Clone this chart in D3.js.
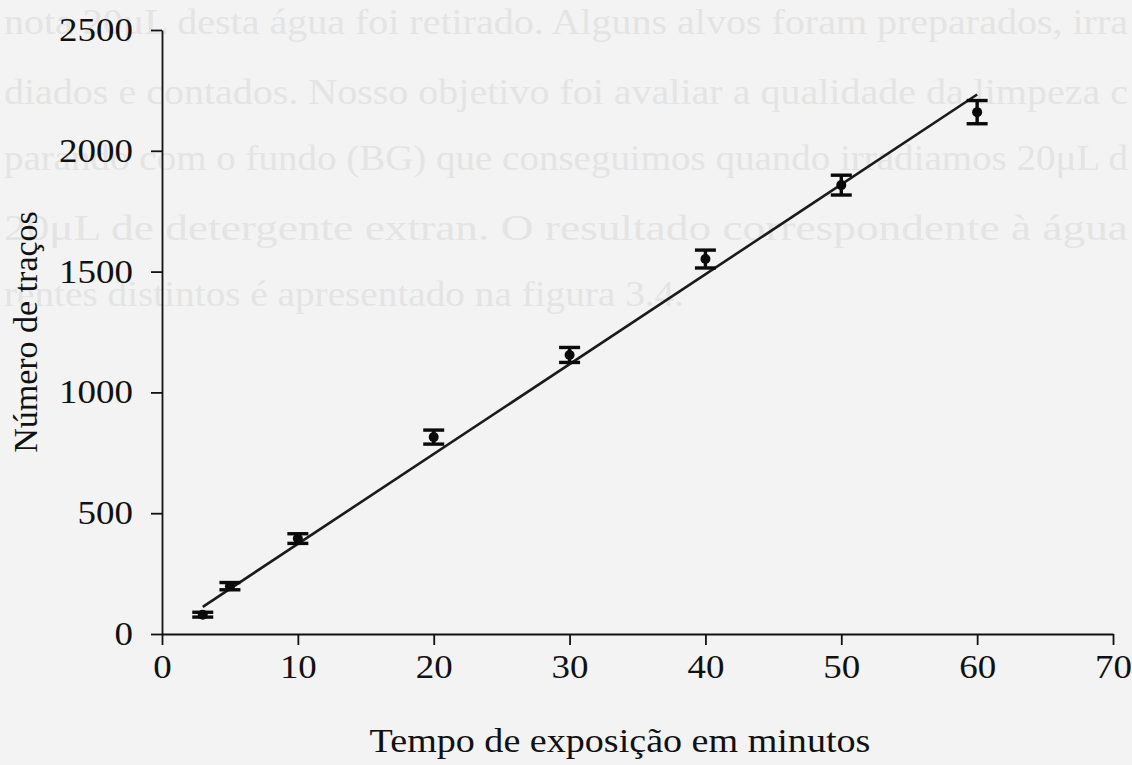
<!DOCTYPE html>
<html>
<head>
<meta charset="utf-8">
<script src="https://cdn.jsdelivr.net/npm/d3@7/dist/d3.min.js"></script>
<style>
  html, body { margin: 0; padding: 0; background: #f3f3f3; }
  svg { display: block; }
</style>
</head>
<body>
<svg id="chart" width="1132" height="765"></svg>
<script>
// Exposure time (minutes) and mean track counts with their uncertainties
const tempos   = [3, 5, 10, 20, 30, 40, 50, 60];
const tracos   = [80, 198, 395, 815, 1155, 1552, 1858, 2160];
const erros    = [10, 15, 20, 29, 31, 37, 41, 48];

// Linear fit of counts versus time
const ajusteInclinacao = 37.2;
const ajusteIntercepto = 1;
const ajusteInicio = 3;
const ajusteFim = 60;

const xTicks = [0, 10, 20, 30, 40, 50, 60, 70];
const yTicks = [0, 500, 1000, 1500, 2000, 2500];

// Faint text showing through from the reverse side of the page
const versoLinhas = [
  "nota 20\u03BCL desta água foi retirado. Alguns alvos foram preparados, irra",
  "diados e contados. Nosso objetivo foi avaliar a qualidade da limpeza c",
  "parando com o fundo (BG) que conseguimos quando irradiamos 20\u03BCL d",
  "20\u03BCL de detergente extran. O resultado correspondente à água",
  "rentes distintos é apresentado na figura 3.4."
];

const svg = d3.select("#chart");
const font = "'Liberation Serif', 'Times New Roman', serif";
const stretch = 1.12;   // type is set slightly wide

const verso = svg.append("g").attr("fill", "#e4e4e4").attr("font-family", font).attr("font-size", 36);
const versoY = [34, 104, 170, 240, 306];
const versoLen = [1124, 1124, 1124, 1124, 680];
versoLinhas.forEach((t, i) => {
  verso.append("text")
    .attr("x", 4).attr("y", versoY[i])
    .attr("textLength", versoLen[i])
    .attr("lengthAdjust", "spacingAndGlyphs")
    .text(t);
});

const x = d3.scaleLinear().domain([0, 70]).range([162, 1113]);
const y = d3.scaleLinear().domain([0, 2500]).range([634, 30]);

const xAxis = svg.append("g")
  .attr("transform", `translate(0,${y(0)})`)
  .call(d3.axisBottom(x).tickValues(xTicks).tickFormat(d3.format("d"))
    .tickSize(11).tickPadding(10).tickSizeOuter(0));
const yAxis = svg.append("g")
  .attr("transform", `translate(${x(0)},0)`)
  .call(d3.axisLeft(y).tickValues(yTicks).tickFormat(d3.format("d"))
    .tickSize(11).tickPadding(18).tickSizeOuter(0));

function widen(sel) {
  sel.each(function () {
    const w = this.getComputedTextLength();
    d3.select(this).attr("textLength", w * stretch).attr("lengthAdjust", "spacingAndGlyphs");
  });
}

[xAxis, yAxis].forEach(g => {
  g.attr("font-size", null).attr("font-family", null);
  g.select(".domain").attr("stroke", "#111").attr("stroke-width", 1.8);
  g.selectAll(".tick line").attr("stroke", "#111").attr("stroke-width", 1.8);
  g.selectAll(".tick text")
    .attr("fill", "#111")
    .style("font-family", font)
    .style("font-size", "33px")
    .call(widen);
});

// fitted line
const fit = d => ajusteIntercepto + ajusteInclinacao * d;
svg.append("line")
  .attr("x1", x(ajusteInicio)).attr("y1", y(fit(ajusteInicio)))
  .attr("x2", x(ajusteFim)).attr("y2", y(fit(ajusteFim)))
  .attr("stroke", "#1a1a1a").attr("stroke-width", 2.6);

// error bars and points
const dados = tempos.map((t, i) => ({ t, v: tracos[i], e: erros[i] }));
const capHalf = 10.5;
const eb = svg.append("g").attr("stroke", "#0a0a0a").attr("stroke-width", 3.4);
dados.forEach(d => {
  eb.append("line")
    .attr("x1", x(d.t)).attr("x2", x(d.t))
    .attr("y1", y(d.v - d.e)).attr("y2", y(d.v + d.e));
  [d.v - d.e, d.v + d.e].forEach(v => {
    eb.append("line")
      .attr("x1", x(d.t) - capHalf).attr("x2", x(d.t) + capHalf)
      .attr("y1", y(v)).attr("y2", y(v));
  });
});
svg.append("g").selectAll("circle").data(dados).join("circle")
  .attr("cx", d => x(d.t)).attr("cy", d => y(d.v))
  .attr("r", 5).attr("fill", "#0a0a0a");

// axis titles
svg.append("text")
  .attr("x", 620).attr("y", 752)
  .attr("text-anchor", "middle")
  .style("font-family", font).style("font-size", "34px").attr("fill", "#111")
  .text("Tempo de exposição em minutos")
  .call(widen);
svg.append("text")
  .attr("transform", `translate(37,332) rotate(-90)`)
  .attr("text-anchor", "middle")
  .style("font-family", font).style("font-size", "34px").attr("fill", "#111")
  .text("Número de traços");
</script>
</body>
</html>
